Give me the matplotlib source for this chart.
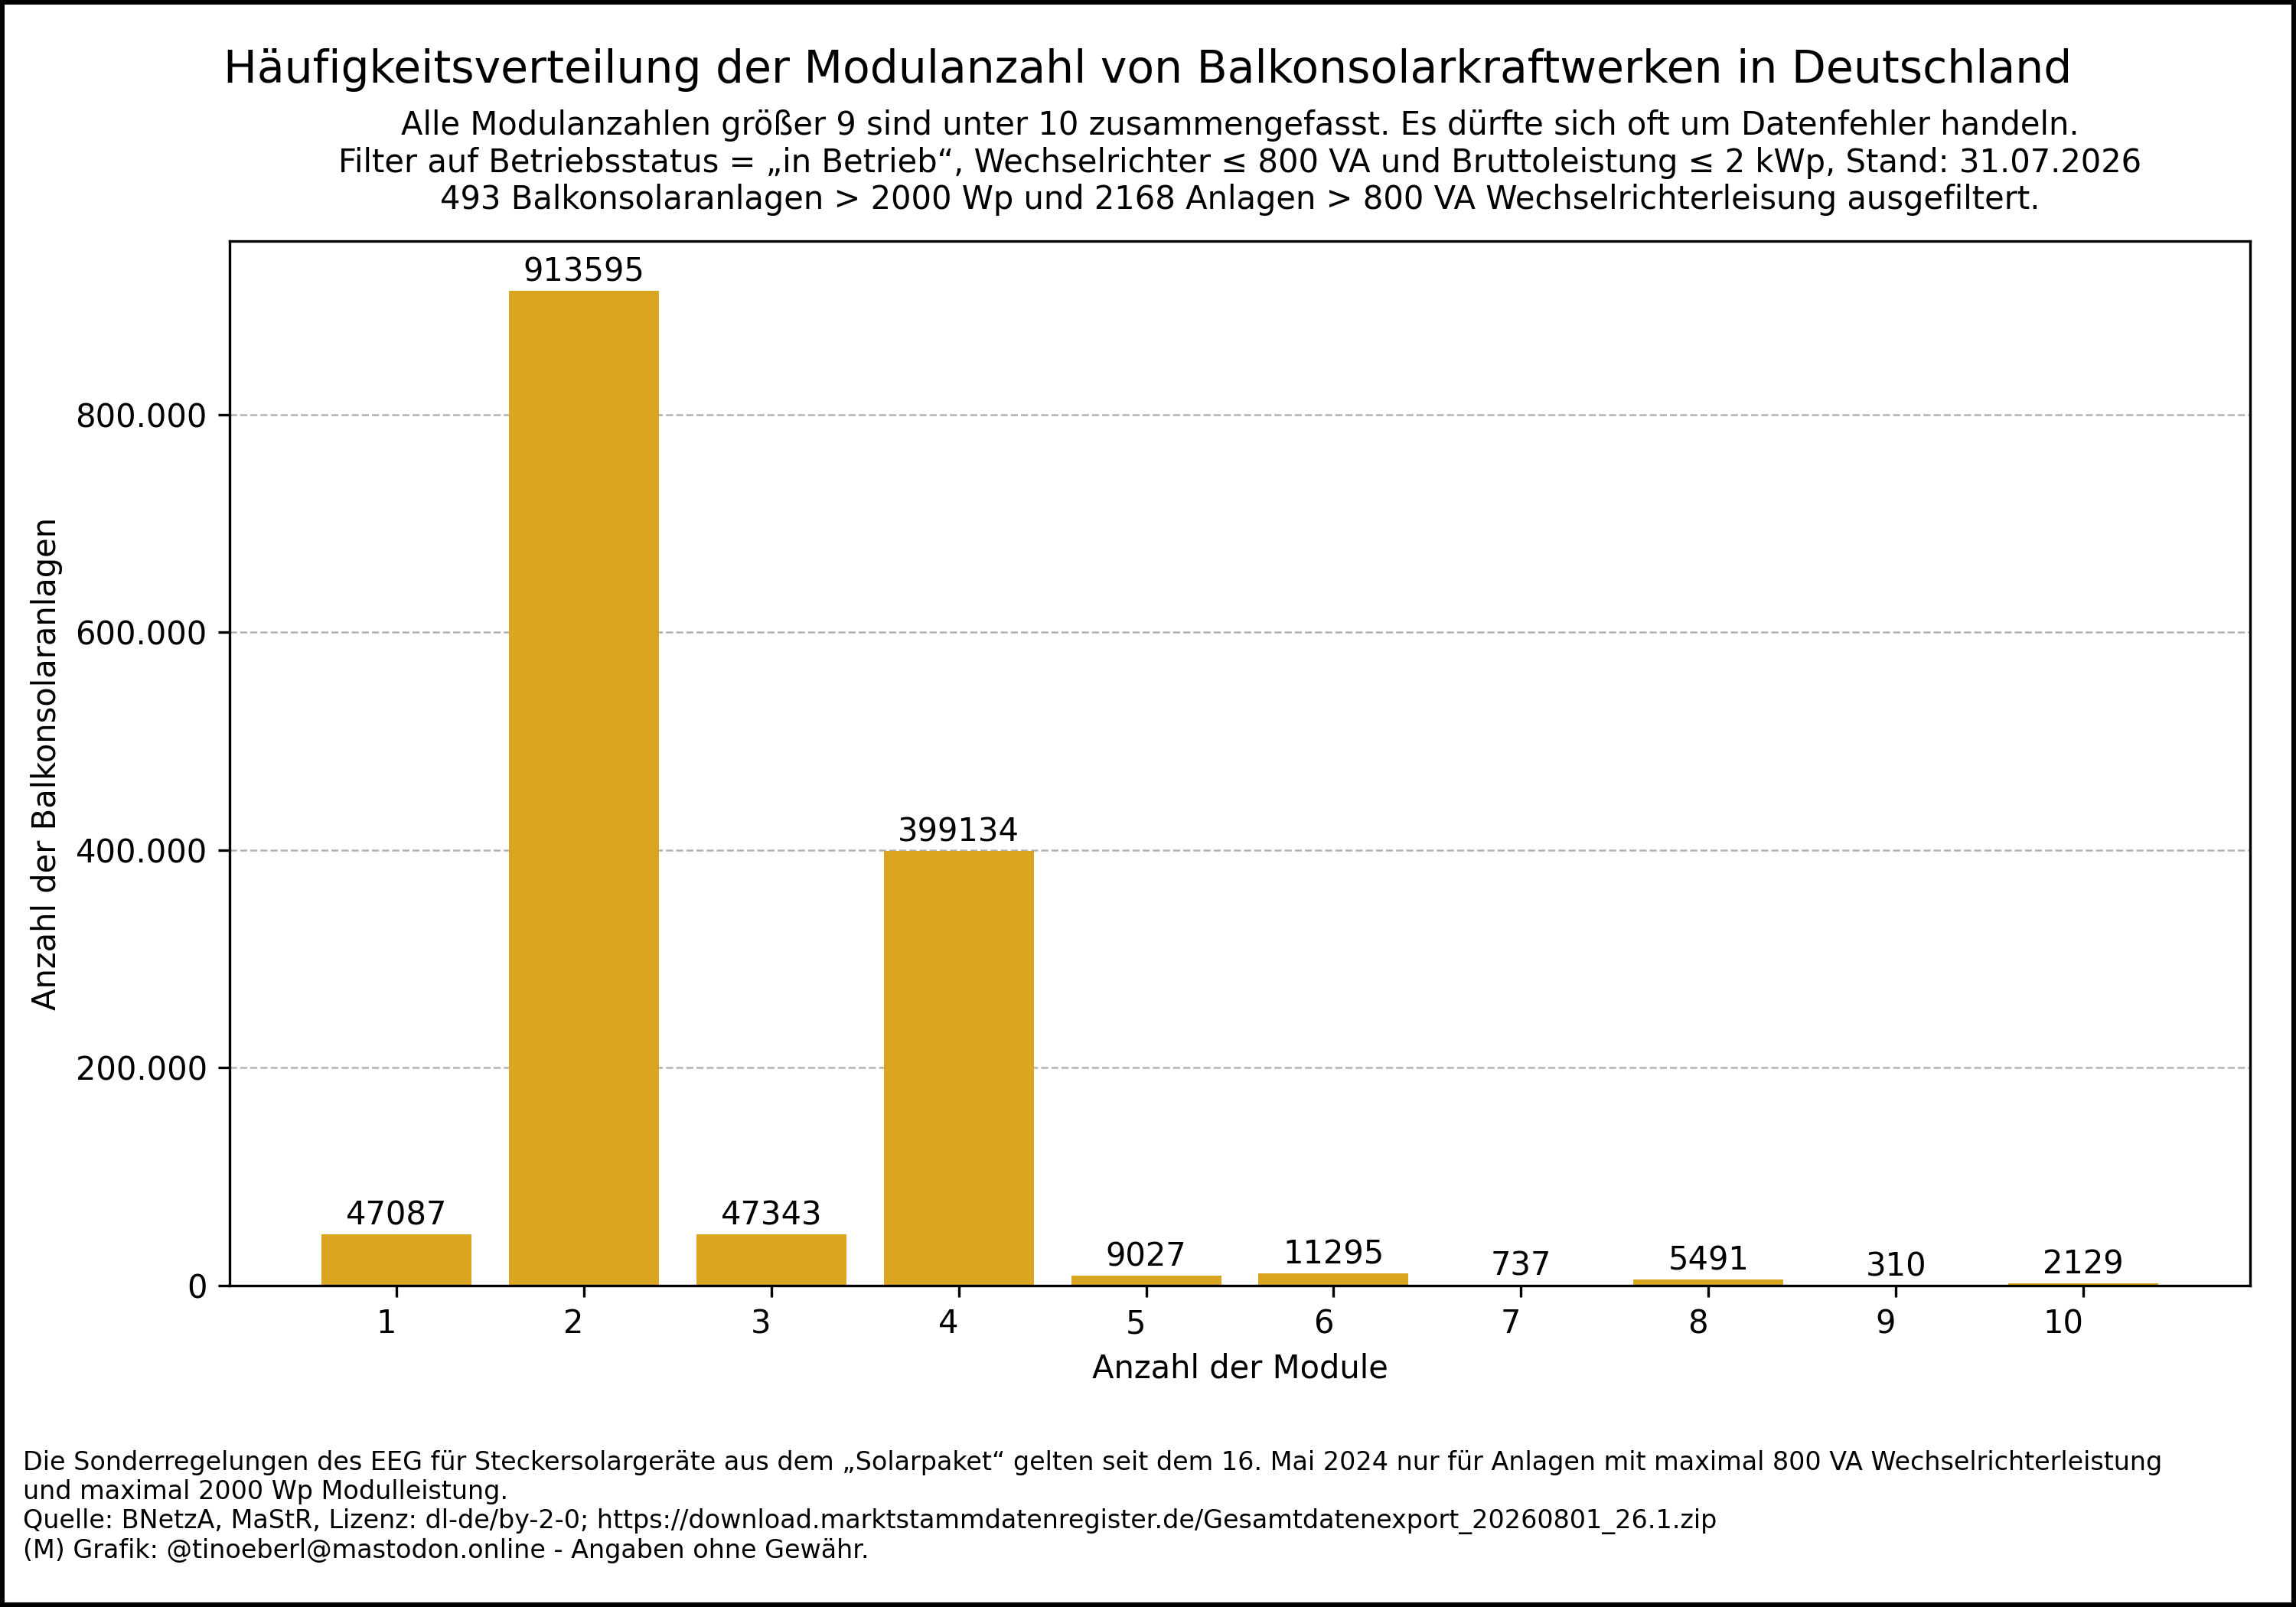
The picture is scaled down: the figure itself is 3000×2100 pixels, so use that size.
import matplotlib.pyplot as plt
from matplotlib.ticker import FuncFormatter

# Modulanzahl (alles > 9 unter 10 zusammengefasst)
module = [1, 2, 3, 4, 5, 6, 7, 8, 9, 10]
anlagen = [47087, 913595, 47343, 399134, 9027, 11295, 737, 5491, 310, 2129]

titel = "Häufigkeitsverteilung der Modulanzahl von Balkonsolarkraftwerken in Deutschland"
untertitel = ("Alle Modulanzahlen größer 9 sind unter 10 zusammengefasst. Es dürfte sich oft um Datenfehler handeln.\n"
              "Filter auf Betriebsstatus = „in Betrieb“, Wechselrichter ≤ 800 VA und Bruttoleistung ≤ 2 kWp, Stand: 31.07.2026\n"
              "493 Balkonsolaranlagen > 2000 Wp und 2168 Anlagen > 800 VA Wechselrichterleisung ausgefiltert.")
fusszeile = ("Die Sonderregelungen des EEG für Steckersolargeräte aus dem „Solarpaket“ gelten seit dem 16. Mai 2024 nur für Anlagen mit maximal 800 VA Wechselrichterleistung\n"
             "und maximal 2000 Wp Modulleistung.\n"
             "Quelle: BNetzA, MaStR, Lizenz: dl-de/by-2-0; https://download.marktstammdatenregister.de/Gesamtdatenexport_20260801_26.1.zip\n"
             "(M) Grafik: @tinoeberl@mastodon.online - Angaben ohne Gewähr.")

fig, ax = plt.subplots(figsize=(10, 7), dpi=300)
fig.patch.set_edgecolor('black')
fig.patch.set_linewidth(2.5)

balken = ax.bar(module, anlagen, color='goldenrod', width=0.8)
ax.bar_label(balken, labels=[str(v) for v in anlagen], fontsize=10, padding=0.8)

ax.set_xticks(module)
plt.setp(ax.get_xticklabels(), ha='right')
ax.yaxis.set_major_formatter(FuncFormatter(lambda v, p: f"{int(v):,}".replace(",", ".")))
ax.grid(axis='y', linestyle='--', color='gray', alpha=0.6, linewidth=0.6)
ax.set_axisbelow(True)

ax.set_xlabel("Anzahl der Module")
ax.set_ylabel("Anzahl der Balkonsolaranlagen")
ax.set_title(untertitel, fontsize=10, pad=10)
fig.suptitle(titel, fontsize=14, y=0.97)

fig.text(0.01, 0.027, fusszeile, fontsize=8, ha='left', va='bottom')

plt.subplots_adjust(left=0.1, right=0.98, top=0.85, bottom=0.2)
plt.savefig('out.png', dpi=300)
plt.close(fig)
